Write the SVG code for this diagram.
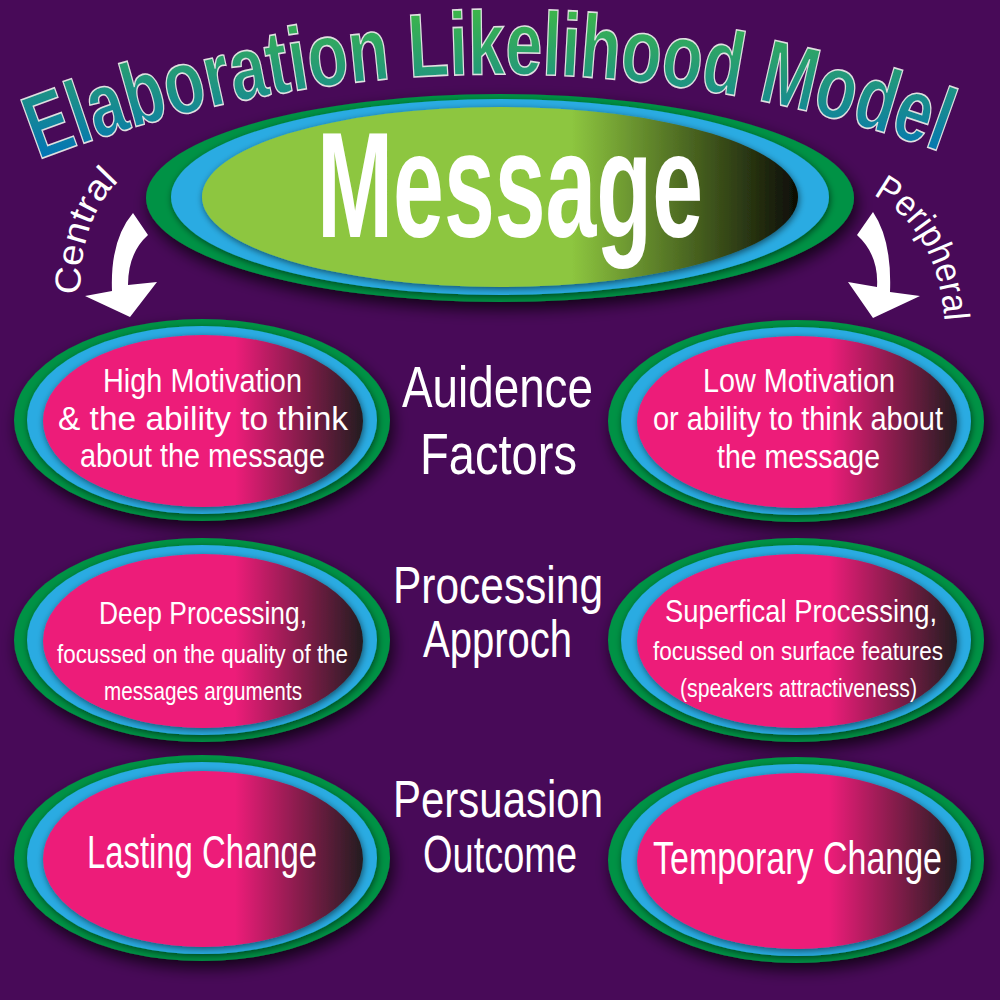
<svg xmlns="http://www.w3.org/2000/svg" xmlns:xlink="http://www.w3.org/1999/xlink" width="1000" height="1000" viewBox="0 0 1000 1000">
<defs>
<style>
.t{font-family:"Liberation Sans Narrow","Liberation Sans",sans-serif;font-stretch:condensed;fill:#fff}
.b{font-weight:bold}
.ring1{fill:#009245}
.ring2{fill:#29abe2}
.pink{fill:url(#gPink)}
</style>
<linearGradient id="gPink" x1="0" y1="0" x2="1" y2="0">
<stop offset="0" stop-color="#ed1e79"/>
<stop offset="0.6" stop-color="#ed1e79"/>
<stop offset="1" stop-color="#231f20"/>
</linearGradient>
<linearGradient id="gGreen" x1="0" y1="0" x2="1" y2="0">
<stop offset="0" stop-color="#8dc63f"/>
<stop offset="0.62" stop-color="#8dc63f"/>
<stop offset="1" stop-color="#0d0d05"/>
</linearGradient>
<linearGradient id="gTitle" gradientUnits="userSpaceOnUse" x1="0" y1="10" x2="0" y2="165">
<stop offset="0" stop-color="#3cb54a"/>
<stop offset="1" stop-color="#0071bc"/>
</linearGradient>
<filter id="outer" x="-20%" y="-30%" width="140%" height="160%">
<feGaussianBlur in="SourceAlpha" stdDeviation="8"/>
<feOffset dx="3" dy="7" result="o"/>
<feComponentTransfer><feFuncA type="linear" slope="0.75"/></feComponentTransfer>
<feMerge><feMergeNode/><feMergeNode in="SourceGraphic"/></feMerge>
</filter>
<filter id="inner" x="-20%" y="-30%" width="140%" height="160%">
<feGaussianBlur in="SourceAlpha" stdDeviation="3.5"/>
<feOffset dx="1" dy="2"/>
<feComponentTransfer><feFuncA type="linear" slope="0.55"/></feComponentTransfer>
<feMerge><feMergeNode/><feMergeNode in="SourceGraphic"/></feMerge>
</filter>
<path id="titleArc" d="M 38,160 A 1287,1287 0 0 1 962,160"/>
<path id="centralArc" d="M 80,295 Q 80,215 122,178"/>
<path id="periphArc" d="M 873,195 Q 940,230 945,328"/>
</defs>

<rect width="1000" height="1000" fill="#480a58"/>

<g id="title">
<text class="t b" font-size="90" fill="url(#gTitle)" stroke="#e0e0e0" stroke-width="1.6" style="fill:url(#gTitle)"><textPath xlink:href="#titleArc" href="#titleArc" textLength="922" lengthAdjust="spacingAndGlyphs">Elaboration Likelihood Model</textPath></text>
</g>

<g id="message">
<ellipse class="ring1" cx="500" cy="198" rx="354" ry="104" filter="url(#outer)"/>
<ellipse class="ring2" cx="500" cy="197" rx="329" ry="98" filter="url(#inner)"/>
<ellipse cx="500" cy="197" rx="298" ry="90" fill="url(#gGreen)" filter="url(#inner)"/>
<text class="t b" x="317" y="237" font-size="150" textLength="386" lengthAdjust="spacingAndGlyphs">Message</text>
</g>

<g id="connectors">
<path id="arrow-central" d="M133,213 L148,235 Q128,253 128,285 L157,282 L130,317 L85,296 L112,291 Q110,240 133,213 Z" fill="#fff"/>
<path id="arrow-peripheral" d="M873,212 Q892,240 890,292 L920,296 L873,318 L848,282 L877,287 Q879,255 857,235 Z" fill="#fff"/>
<text class="t" font-size="36"><textPath xlink:href="#centralArc" href="#centralArc" textLength="124" lengthAdjust="spacingAndGlyphs">Central</textPath></text>
<text class="t" font-size="36"><textPath xlink:href="#periphArc" href="#periphArc" textLength="152" lengthAdjust="spacingAndGlyphs">Peripheral</textPath></text>
</g>

<g id="labels">
<text class="t" x="402" y="407" font-size="58" textLength="191" lengthAdjust="spacingAndGlyphs">Auidence</text>
<text class="t" x="420" y="474" font-size="58" textLength="157" lengthAdjust="spacingAndGlyphs">Factors</text>
<text class="t" x="393" y="603" font-size="52" textLength="210" lengthAdjust="spacingAndGlyphs">Processing</text>
<text class="t" x="423" y="657" font-size="52" textLength="149" lengthAdjust="spacingAndGlyphs">Approch</text>
<text class="t" x="393" y="817" font-size="52" textLength="210" lengthAdjust="spacingAndGlyphs">Persuasion</text>
<text class="t" x="423" y="872" font-size="52" textLength="154" lengthAdjust="spacingAndGlyphs">Outcome</text>
</g>

<g id="high-motivation">
<ellipse class="ring1" cx="202" cy="420" rx="188" ry="101" filter="url(#outer)"/>
<ellipse class="ring2" cx="202" cy="420" rx="175" ry="94" filter="url(#inner)"/>
<ellipse class="pink" cx="203" cy="421" rx="160" ry="86" filter="url(#inner)"/>
<text class="t" x="103" y="392" font-size="33" textLength="199" lengthAdjust="spacingAndGlyphs">High Motivation</text>
<text class="t" x="58" y="430" font-size="33" textLength="290" lengthAdjust="spacingAndGlyphs">&amp; the ability to think</text>
<text class="t" x="80" y="467" font-size="33" textLength="245" lengthAdjust="spacingAndGlyphs">about the message</text>
</g>

<g id="low-motivation">
<ellipse class="ring1" cx="796" cy="421" rx="188" ry="101" filter="url(#outer)"/>
<ellipse class="ring2" cx="796" cy="421" rx="175" ry="94" filter="url(#inner)"/>
<ellipse class="pink" cx="797" cy="422" rx="160" ry="86" filter="url(#inner)"/>
<text class="t" x="703" y="392" font-size="33" textLength="192" lengthAdjust="spacingAndGlyphs">Low Motivation</text>
<text class="t" x="653" y="430" font-size="33" textLength="290" lengthAdjust="spacingAndGlyphs">or ability to think about</text>
<text class="t" x="717" y="468" font-size="33" textLength="163" lengthAdjust="spacingAndGlyphs">the message</text>
</g>

<g id="deep-processing">
<ellipse class="ring1" cx="202" cy="640" rx="188" ry="102" filter="url(#outer)"/>
<ellipse class="ring2" cx="202" cy="640" rx="175" ry="95" filter="url(#inner)"/>
<ellipse class="pink" cx="203" cy="641" rx="160" ry="87" filter="url(#inner)"/>
<text class="t" x="99" y="624" font-size="32" textLength="208" lengthAdjust="spacingAndGlyphs">Deep Processing,</text>
<text class="t" x="57" y="663" font-size="25" textLength="291" lengthAdjust="spacingAndGlyphs">focussed on the quality of the</text>
<text class="t" x="104" y="700" font-size="25" textLength="198" lengthAdjust="spacingAndGlyphs">messages arguments</text>
</g>

<g id="superficial-processing">
<ellipse class="ring1" cx="796" cy="640" rx="188" ry="102" filter="url(#outer)"/>
<ellipse class="ring2" cx="796" cy="640" rx="175" ry="95" filter="url(#inner)"/>
<ellipse class="pink" cx="797" cy="641" rx="160" ry="87" filter="url(#inner)"/>
<text class="t" x="665" y="622" font-size="32" textLength="272" lengthAdjust="spacingAndGlyphs">Superfical Processing,</text>
<text class="t" x="653" y="660" font-size="25" textLength="290" lengthAdjust="spacingAndGlyphs">focussed on surface features</text>
<text class="t" x="680" y="697" font-size="25" textLength="237" lengthAdjust="spacingAndGlyphs">(speakers attractiveness)</text>
</g>

<g id="lasting-change">
<ellipse class="ring1" cx="202" cy="858" rx="188" ry="103" filter="url(#outer)"/>
<ellipse class="ring2" cx="202" cy="858" rx="175" ry="96" filter="url(#inner)"/>
<ellipse class="pink" cx="203" cy="859" rx="160" ry="88" filter="url(#inner)"/>
<text class="t" x="87" y="868" font-size="46" textLength="230" lengthAdjust="spacingAndGlyphs">Lasting Change</text>
</g>

<g id="temporary-change">
<ellipse class="ring1" cx="796" cy="860" rx="188" ry="103" filter="url(#outer)"/>
<ellipse class="ring2" cx="796" cy="860" rx="175" ry="96" filter="url(#inner)"/>
<ellipse class="pink" cx="797" cy="861" rx="160" ry="88" filter="url(#inner)"/>
<text class="t" x="653" y="874" font-size="46" textLength="289" lengthAdjust="spacingAndGlyphs">Temporary Change</text>
</g>
</svg>
